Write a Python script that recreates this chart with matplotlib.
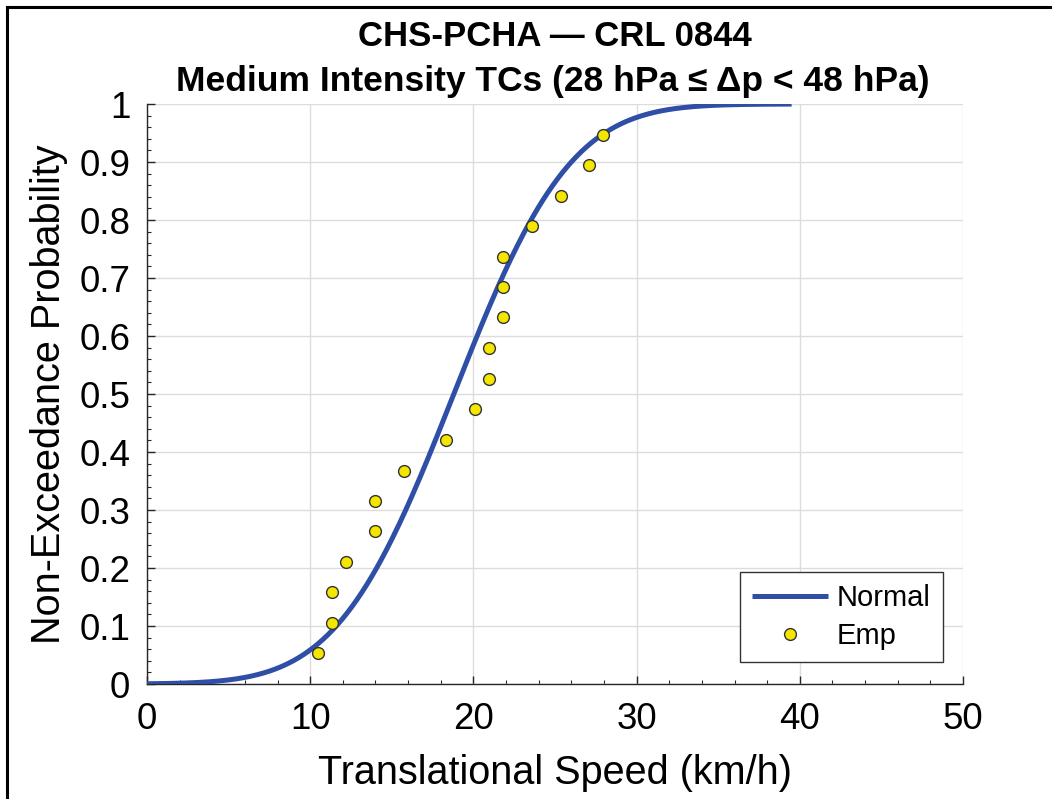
import math
import matplotlib
matplotlib.use("Agg")
import matplotlib.pyplot as plt
import numpy as np
from matplotlib.lines import Line2D
from matplotlib.ticker import MultipleLocator

plt.rcParams['font.family'] = ['Liberation Sans', 'DejaVu Sans']

emp_speed = [10.5, 11.35, 11.35, 12.2, 14.0, 14.0, 15.75, 18.3, 20.1, 20.95,
             20.95, 21.8, 21.8, 21.8, 23.6, 25.35, 27.1, 27.95]
emp_prob = [0.053, 0.105, 0.158, 0.211, 0.263, 0.316, 0.368, 0.421, 0.474,
            0.526, 0.579, 0.632, 0.684, 0.737, 0.789, 0.842, 0.895, 0.947]

# fitted normal distribution
norm_mu = 18.8
norm_sigma = 5.62
curve_max = 39.5

x_ticks = [0, 10, 20, 30, 40, 50]
y_ticks = [0, 0.1, 0.2, 0.3, 0.4, 0.5, 0.6, 0.7, 0.8, 0.9, 1]
y_tick_labels = ['0', '0.1', '0.2', '0.3', '0.4', '0.5', '0.6', '0.7', '0.8', '0.9', '1']

W, H = 1052, 799
fig = plt.figure(figsize=(W / 100, H / 100), dpi=100)
fig.set_facecolor('white')
ax = fig.add_axes([147 / W, 1 - 684 / H, (963 - 147) / W, (684 - 104) / H])

xs = np.linspace(0, curve_max, 400)
cdf = np.array([0.5 * (1 + math.erf((v - norm_mu) / (norm_sigma * math.sqrt(2)))) for v in xs])

ax.plot(xs, cdf, color='#2f4fa6', lw=3.6, label='Normal', zorder=3, solid_capstyle='butt')
ax.plot(emp_speed, emp_prob, 'o', ms=8.5, mfc='#f5e600', mec='#333333', mew=1.0,
        label='Emp', zorder=4)

ax.set_xlim(0, 50)
ax.set_ylim(0, 1)
ax.set_xticks(x_ticks)
ax.set_yticks(y_ticks)
ax.set_yticklabels(y_tick_labels)
ax.xaxis.set_minor_locator(MultipleLocator(2))
ax.yaxis.set_minor_locator(MultipleLocator(0.02))

ax.grid(True, which='major', color='#dcdcdc', lw=1.0, zorder=0)
ax.set_axisbelow(True)
for s in ['top', 'right']:
    ax.spines[s].set_visible(False)
for s in ['left', 'bottom']:
    ax.spines[s].set_color('#262626')
    ax.spines[s].set_linewidth(1.0)

ax.tick_params(which='both', direction='in', colors='#262626', labelcolor='black',
               labelsize=26.5, top=False, right=False)
ax.tick_params(which='major', length=5.5, width=1.0)
ax.tick_params(which='minor', length=3, width=0.8)
ax.tick_params(axis='y', pad=12)
ax.tick_params(axis='x', pad=13)

ax.set_xlabel('Translational Speed (km/h)', fontsize=28.5)
ax.set_ylabel('Non-Exceedance Probability', fontsize=28.5)
ax.xaxis.set_label_coords(0.5, -0.12)
ax.yaxis.set_label_coords(-0.097, 0.5)

fig.text(555 / W, 1 - 37 / H, 'CHS-PCHA \u2014 CRL 0844', ha='center', va='center',
         fontsize=25, fontweight='bold')
fig.text(553 / W, 1 - 82 / H, 'Medium Intensity TCs (28 hPa \u2264 \u0394p < 48 hPa)',
         ha='center', va='center', fontsize=25.5, fontweight='bold')

leg = ax.legend(loc='lower right', bbox_to_anchor=(943 / W, 1 - 662 / H),
                bbox_transform=fig.transFigure, borderaxespad=0, fontsize=21,
                fancybox=False, framealpha=1, edgecolor='#333333',
                handlelength=2.6, handletextpad=0.3, borderpad=0.42, labelspacing=0.32)
leg.get_frame().set_linewidth(1.0)

# thin black border on the top and left edges of the image
fig.add_artist(Line2D([6.5 / W, 6.5 / W], [0, 1 - 6.5 / H], transform=fig.transFigure,
                      color='black', lw=2.2))
fig.add_artist(Line2D([6.5 / W, 1], [1 - 6.5 / H, 1 - 6.5 / H], transform=fig.transFigure,
                      color='black', lw=2.2))

fig.savefig('out.png', dpi=100)
